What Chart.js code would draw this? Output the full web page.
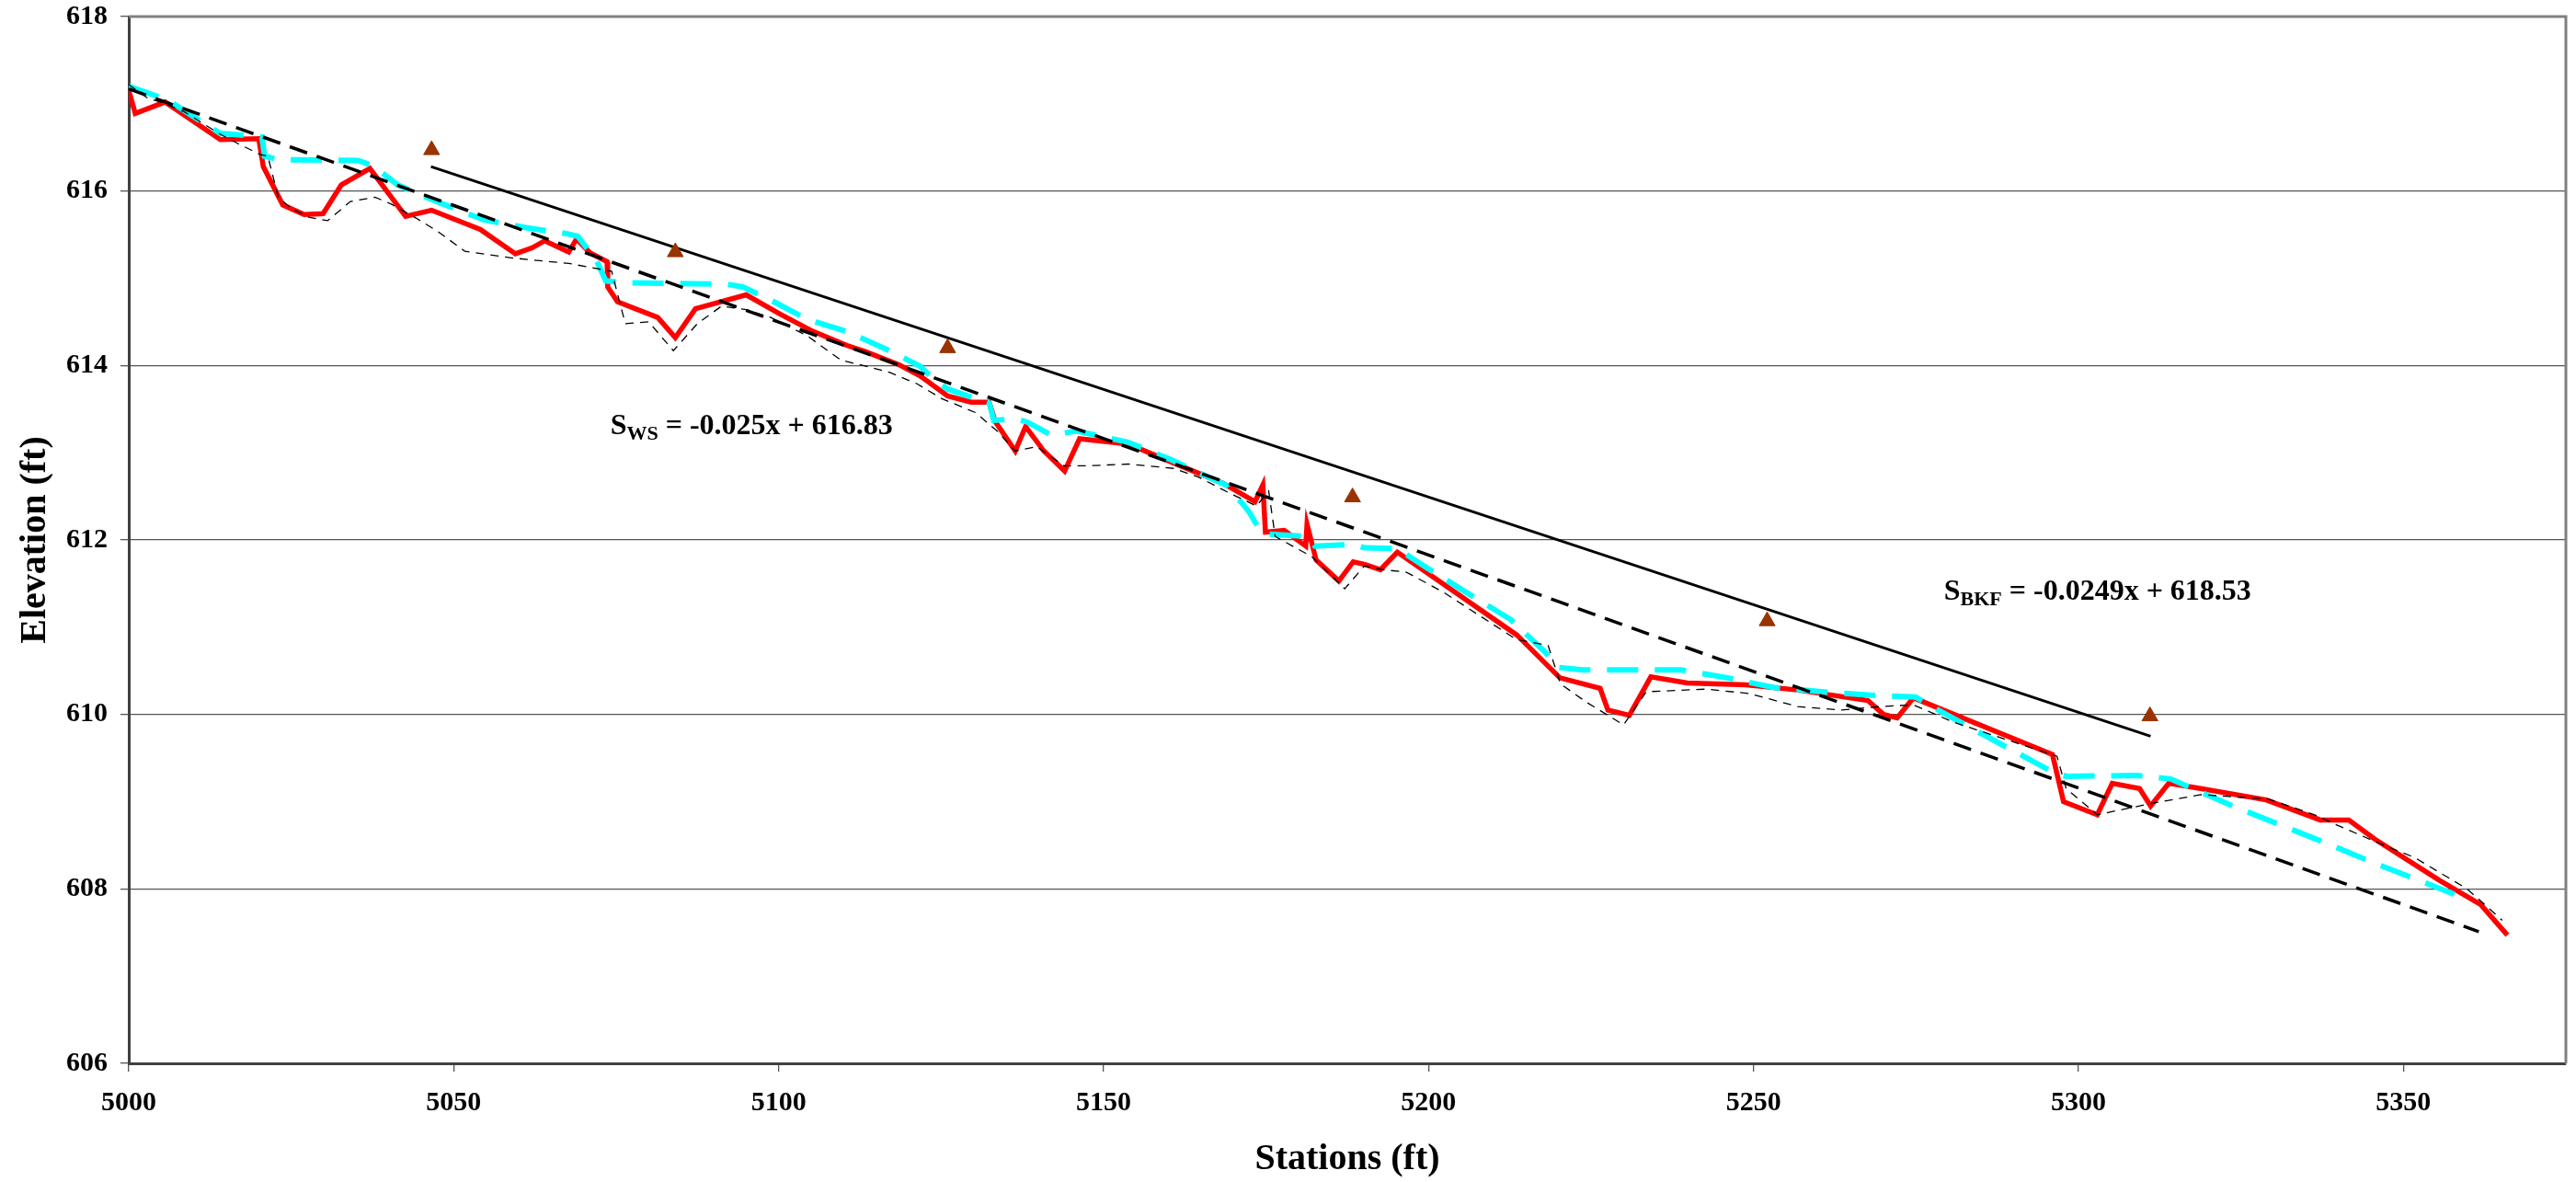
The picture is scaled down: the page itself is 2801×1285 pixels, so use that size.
<!DOCTYPE html>
<html>
<head>
<meta charset="utf-8">
<script src="https://cdn.jsdelivr.net/npm/chart.js@4.4.1/dist/chart.umd.min.js"></script>
<style>
  html, body { margin: 0; padding: 0; background: #fff; }
  #wrap { width: 2801px; height: 1285px; }
</style>
</head>
<body>
<div id="wrap"><canvas id="myChart" width="2801" height="1285"></canvas></div>
<script>
// red profile (thick solid)
var redStation = [5000.0, 5001.0, 5005.6, 5014.1, 5020.0, 5020.7, 5023.7, 5027.0, 5029.9, 5032.7, 5037.1, 5042.6,
    5046.6, 5054.1, 5059.5, 5062.1, 5064.0, 5067.7, 5068.9, 5071.0, 5073.6, 5073.7, 5075.2, 5081.4, 5084.1, 5087.2,
    5095.0, 5100.2, 5105.3, 5110.5, 5113.3, 5118.5, 5121.8, 5126.0, 5129.6, 5132.4, 5133.3, 5136.4, 5138.0, 5140.8,
    5144.0, 5146.3, 5153.8, 5161.8, 5168.4, 5173.3, 5174.5, 5174.9, 5177.8, 5181.1, 5181.3, 5182.7, 5186.2, 5188.4,
    5190.2, 5192.6, 5195.2, 5213.6, 5220.2, 5226.4, 5227.6, 5230.9, 5234.2, 5239.8, 5248.8, 5256.8, 5267.6, 5270.0,
    5272.1, 5274.6, 5296.0, 5297.7, 5302.9, 5305.2, 5309.4, 5311.1, 5313.9, 5318.8, 5328.9, 5337.2, 5341.6, 5345.6,
    5355.5, 5361.9, 5366.0];
var redElev = [617.15, 616.89, 617.02, 616.59, 616.60, 616.28, 615.84, 615.73, 615.74, 616.07, 616.26, 615.71,
    615.78, 615.56, 615.28, 615.35, 615.43, 615.30, 615.45, 615.29, 615.19, 614.90, 614.73, 614.55, 614.32, 614.65,
    614.81, 614.59, 614.39, 614.23, 614.16, 614.01, 613.88, 613.65, 613.58, 613.58, 613.36, 613.02, 613.30, 613.02,
    612.79, 613.16, 613.10, 612.85, 612.65, 612.44, 612.63, 612.09, 612.11, 611.93, 612.18, 611.77, 611.53, 611.75,
    611.72, 611.66, 611.86, 610.91, 610.42, 610.30, 610.05, 609.99, 610.43, 610.36, 610.34, 610.28, 610.16, 610.00,
    609.96, 610.19, 609.54, 609.00, 608.85, 609.21, 609.15, 608.95, 609.21, 609.15, 609.02, 608.79, 608.79, 608.57,
    608.10, 607.82, 607.47];

// cyan profile (thick dashed)
var cyanStation = [5000.0, 5006.1, 5009.4, 5014.1, 5016.0, 5020.5, 5020.9, 5023.0, 5035.3, 5037.6, 5041.4, 5047.0,
    5054.6, 5061.1, 5067.5, 5069.1, 5072.0, 5073.4, 5076.2, 5092.2, 5094.5, 5098.5, 5104.4, 5110.5, 5117.6, 5121.8,
    5123.7, 5126.0, 5132.4, 5133.1, 5136.4, 5138.3, 5142.0, 5145.8, 5153.8, 5160.4, 5167.0, 5169.1, 5172.4, 5174.0,
    5174.9, 5181.1, 5182.5, 5188.3, 5190.2, 5195.2, 5198.9, 5206.0, 5212.6, 5218.0, 5219.9, 5223.7, 5238.9, 5246.0,
    5253.0, 5260.5, 5268.1, 5274.9, 5278.4, 5288.8, 5296.3, 5298.2, 5309.0, 5314.2, 5323.1, 5337.9, 5345.4, 5352.7,
    5360.1];
var cyanElev = [617.20, 617.04, 616.88, 616.66, 616.65, 616.62, 616.40, 616.36, 616.35, 616.29, 616.07, 615.89,
    615.67, 615.58, 615.51, 615.48, 615.20, 614.97, 614.95, 614.93, 614.90, 614.76, 614.53, 614.39, 614.15, 613.99,
    613.85, 613.73, 613.57, 613.37, 613.39, 613.35, 613.20, 613.25, 613.12, 612.92, 612.69, 612.62, 612.32, 612.12,
    612.07, 612.04, 611.93, 611.95, 611.91, 611.90, 611.72, 611.39, 611.09, 610.71, 610.54, 610.51, 610.51, 610.42,
    610.31, 610.26, 610.22, 610.20, 610.05, 609.63, 609.33, 609.29, 609.30, 609.26, 608.97, 608.53, 608.30, 608.09,
    607.87];

// thin black dashed profile
var thinStation = [5000.0, 5002.8, 5005.6, 5008.5, 5014.1, 5016.9, 5020.2, 5021.4, 5023.0, 5025.0, 5027.7, 5030.6,
    5034.1, 5037.9, 5040.4, 5044.2, 5047.5, 5051.7, 5059.3, 5067.7, 5074.3, 5076.4, 5080.0, 5083.8, 5087.5, 5091.2,
    5095.0, 5098.8, 5104.4, 5109.6, 5111.9, 5117.1, 5121.3, 5125.1, 5130.3, 5133.6, 5136.4, 5139.7, 5143.9, 5147.7,
    5153.8, 5160.8, 5164.6, 5169.3, 5173.5, 5175.4, 5176.4, 5182.0, 5187.1, 5190.1, 5192.9, 5196.6, 5202.3, 5213.5,
    5218.4, 5220.3, 5224.3, 5230.0, 5233.5, 5242.7, 5249.3, 5256.8, 5263.4, 5269.5, 5274.6, 5280.8, 5296.7, 5298.1,
    5302.9, 5311.3, 5318.8, 5329.2, 5336.7, 5339.5, 5347.0, 5351.7, 5359.8, 5365.2];
var thinElev = [617.22, 617.07, 617.00, 616.91, 616.65, 616.54, 616.42, 616.40, 615.93, 615.80, 615.70, 615.66,
    615.88, 615.93, 615.85, 615.69, 615.54, 615.31, 615.23, 615.17, 615.08, 614.48, 614.50, 614.17, 614.48, 614.68,
    614.64, 614.55, 614.34, 614.06, 614.02, 613.92, 613.79, 613.62, 613.46, 613.25, 613.02, 613.07, 612.85, 612.85,
    612.87, 612.82, 612.72, 612.54, 612.39, 612.56, 612.04, 611.81, 611.44, 611.70, 611.66, 611.63, 611.40, 610.86,
    610.79, 610.35, 610.14, 609.88, 610.26, 610.29, 610.24, 610.09, 610.05, 610.09, 610.11, 609.91, 609.52, 609.15,
    608.85, 608.98, 609.08, 609.03, 608.84, 608.74, 608.50, 608.36, 608.00, 607.64];

// bankfull points (triangles)
var bkfStation = [5046.6, 5084.1, 5126.0, 5188.3, 5252.1, 5311.0];
var bkfElev = [616.47, 615.30, 614.20, 612.49, 611.07, 609.98];

// trend lines
var wsTrendStation = [5000, 5361.6];
var wsTrendElev = [617.17, 607.51];
var bkfTrendStation = [5046.5, 5311.1];
var bkfTrendElev = [616.28, 609.75];

// tick labels
var xTicks = [5000, 5050, 5100, 5150, 5200, 5250, 5300, 5350];
var yTicks = [606, 608, 610, 612, 614, 616, 618];

var FONT = "'Liberation Serif', 'Times New Roman', serif";

function pts(xs, ys) {
    var out = [];
    for (var i = 0; i < xs.length; i++) {
        out.push({ x: xs[i], y: ys[i] });
    }
    return out;
}

// equations written on the plot, placed in data coordinates
var notes = [
    { x: 5074.1, y: 613.21, main: 'S', sub: 'WS', rest: ' = -0.025x + 616.83' },
    { x: 5279.3, y: 611.31, main: 'S', sub: 'BKF', rest: ' = -0.0249x + 618.53' }
];

var notesPlugin = {
    id: 'notes',
    afterDatasetsDraw: function(chart) {
        var ctx = chart.ctx;
        var xs = chart.scales.x, ys = chart.scales.y;
        ctx.save();
        ctx.fillStyle = '#000';
        ctx.textBaseline = 'alphabetic';
        ctx.textAlign = 'left';
        notes.forEach(function(n) {
            var px = xs.getPixelForValue(n.x);
            var py = ys.getPixelForValue(n.y);
            ctx.font = 'bold 32px ' + FONT;
            ctx.fillText(n.main, px, py);
            px += ctx.measureText(n.main).width;
            ctx.font = 'bold 22px ' + FONT;
            ctx.fillText(n.sub, px, py + 6);
            px += ctx.measureText(n.sub).width;
            ctx.font = 'bold 32px ' + FONT;
            ctx.fillText(n.rest, px, py);
        });
        ctx.restore();
    }
};

// grey top/right edge of the plot frame
var framePlugin = {
    id: 'frame',
    beforeDatasetsDraw: function(chart) {
        var a = chart.chartArea, ctx = chart.ctx;
        ctx.save();
        ctx.strokeStyle = '#808080';
        ctx.lineWidth = 3;
        ctx.beginPath();
        ctx.moveTo(a.left, a.top);
        ctx.lineTo(a.right, a.top);
        ctx.lineTo(a.right, a.bottom);
        ctx.stroke();
        ctx.restore();
    }
};

function plainNumber(v) {
    return String(v);
}

function chartCreate() {
    const data = {
        datasets: [{
            label: 'Bankfull',
            data: pts(bkfStation, bkfElev),
            showLine: false,
            pointStyle: 'triangle',
            pointRadius: 10,
            pointBackgroundColor: '#993300',
            pointBorderColor: '#993300',
            pointBorderWidth: 1,
            order: 0
        }, {
            label: 'BKF trend',
            data: pts(bkfTrendStation, bkfTrendElev),
            showLine: true,
            borderColor: '#000',
            borderWidth: 3,
            pointRadius: 0,
            order: 1
        }, {
            label: 'WS trend',
            data: pts(wsTrendStation, wsTrendElev),
            showLine: true,
            borderColor: '#000',
            borderWidth: 3.5,
            borderDash: [20, 11],
            pointRadius: 0,
            order: 1
        }, {
            label: 'Thin profile',
            data: pts(thinStation, thinElev),
            showLine: true,
            borderColor: '#000',
            borderWidth: 1.3,
            borderDash: [9, 7],
            pointRadius: 0,
            order: 2
        }, {
            label: 'Cyan profile',
            data: pts(cyanStation, cyanElev),
            showLine: true,
            borderColor: '#00ffff',
            borderWidth: 6,
            borderDash: [34, 18],
            pointRadius: 0,
            order: 3
        }, {
            label: 'Red profile',
            data: pts(redStation, redElev),
            showLine: true,
            borderColor: '#ff0000',
            borderWidth: 5.5,
            pointRadius: 0,
            order: 4
        }]
    };
    const config = {
        type: 'scatter',
        data: data,
        options: {
            responsive: false,
            animation: false,
            devicePixelRatio: 1,
            layout: { padding: { top: 18, right: 4, left: 0, bottom: 0 } },
            plugins: {
                legend: { display: false },
                tooltip: { enabled: false }
            },
            elements: { line: { tension: 0 } },
            scales: {
                x: {
                    type: 'linear',
                    min: 5000,
                    max: 5375,
                    afterFit: function(s) {
                        s.height = 129;
                        s.paddingLeft = 0;
                        s.paddingRight = 0;
                    },
                    afterBuildTicks: function(s) { s.ticks = xTicks.map(function(v) { return { value: v }; }); },
                    ticks: {
                        stepSize: 50,
                        includeBounds: false,
                        color: '#000',
                        padding: 16,
                        maxRotation: 0,
                        callback: plainNumber,
                        font: { family: FONT, size: 30, weight: 'bold' }
                    },
                    grid: { drawOnChartArea: false, drawTicks: true, tickLength: 9, color: '#555', lineWidth: 1.3 },
                    border: { display: true, color: '#404040', width: 3 },
                    title: {
                        display: true,
                        text: 'Stations (ft)',
                        color: '#000',
                        font: { family: FONT, size: 40, weight: 'bold' },
                        padding: { top: 0, bottom: 0 }
                    }
                },
                y: {
                    type: 'linear',
                    min: 606,
                    max: 618,
                    afterFit: function(s) {
                        s.width = 140;
                        s.paddingTop = 0;
                        s.paddingBottom = 0;
                    },
                    afterBuildTicks: function(s) { s.ticks = yTicks.map(function(v) { return { value: v }; }); },
                    ticks: {
                        stepSize: 2,
                        color: '#000',
                        padding: 14,
                        callback: plainNumber,
                        font: { family: FONT, size: 30, weight: 'bold' }
                    },
                    grid: { drawOnChartArea: true, drawTicks: true, tickLength: 9, color: '#555', lineWidth: 1.3 },
                    border: { display: true, color: '#404040', width: 3 },
                    title: {
                        display: true,
                        text: 'Elevation (ft)',
                        color: '#000',
                        font: { family: FONT, size: 40, weight: 'bold' },
                        padding: { top: 15, bottom: 0 }
                    }
                }
            }
        },
        plugins: [framePlugin, notesPlugin]
    };
    const myChart = new Chart(document.getElementById('myChart'), config);
}

window.onload = function() {
    chartCreate();
};
</script>
</body>
</html>
